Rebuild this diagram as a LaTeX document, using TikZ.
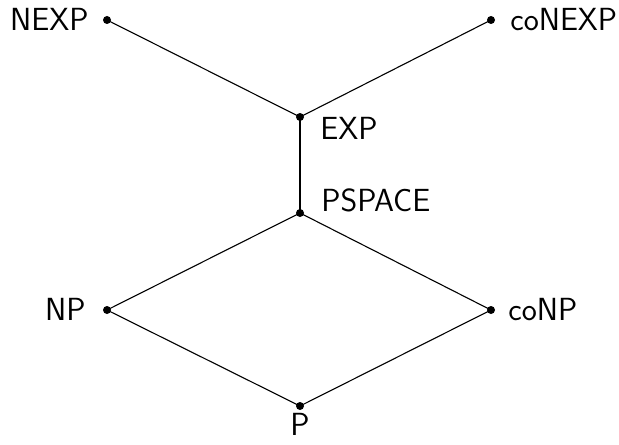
\documentclass[tikz,border=0pt]{standalone}
\begin{document}
\begin{tikzpicture}[x=0.5pt,y=-0.5pt,
  dot/.style={circle,fill=black,inner sep=0pt,minimum size=4pt},
  lbl/.style={inner sep=0pt,font=\sffamily\fontsize{16}{19}\selectfont},
  edge/.style={line width=0.55pt},
  thickedge/.style={line width=1pt}]
\useasboundingbox (0,0) rectangle (619,444);
\node[dot] (nexp) at (107,20) {};
\node[dot] (conexp) at (491,20) {};
\node[dot] (exp) at (300,117) {};
\node[dot] (pspace) at (300,213) {};
\node[dot] (np) at (107,310) {};
\node[dot] (conp) at (491,310) {};
\node[dot] (p) at (300,406) {};
\node[lbl,anchor=base east] (nexpL) at (89,31) {NEXP};
\node[lbl,anchor=base west] (conexpL) at (510,31) {coNEXP};
\node[lbl,anchor=base west] (expL) at (320,139.5) {EXP};
\node[lbl,anchor=base west] (pspaceL) at (321,211.5) {PSPACE};
\node[lbl,anchor=base east] (npL) at (86,320) {NP};
\node[lbl,anchor=base west] (conpL) at (508,320.5) {coNP};
\node[lbl,anchor=base] (pL) at (300,435.5) {P};
\draw[edge] (nexp.center) -- (exp.center);
\draw[edge] (conexp.center) -- (exp.center);
\draw[thickedge] (exp.center) -- (pspace.center);
\draw[edge] (pspace.center) -- (np.center);
\draw[edge] (pspace.center) -- (conp.center);
\draw[edge] (np.center) -- (p.center);
\draw[edge] (conp.center) -- (p.center);
\end{tikzpicture}
\end{document}
